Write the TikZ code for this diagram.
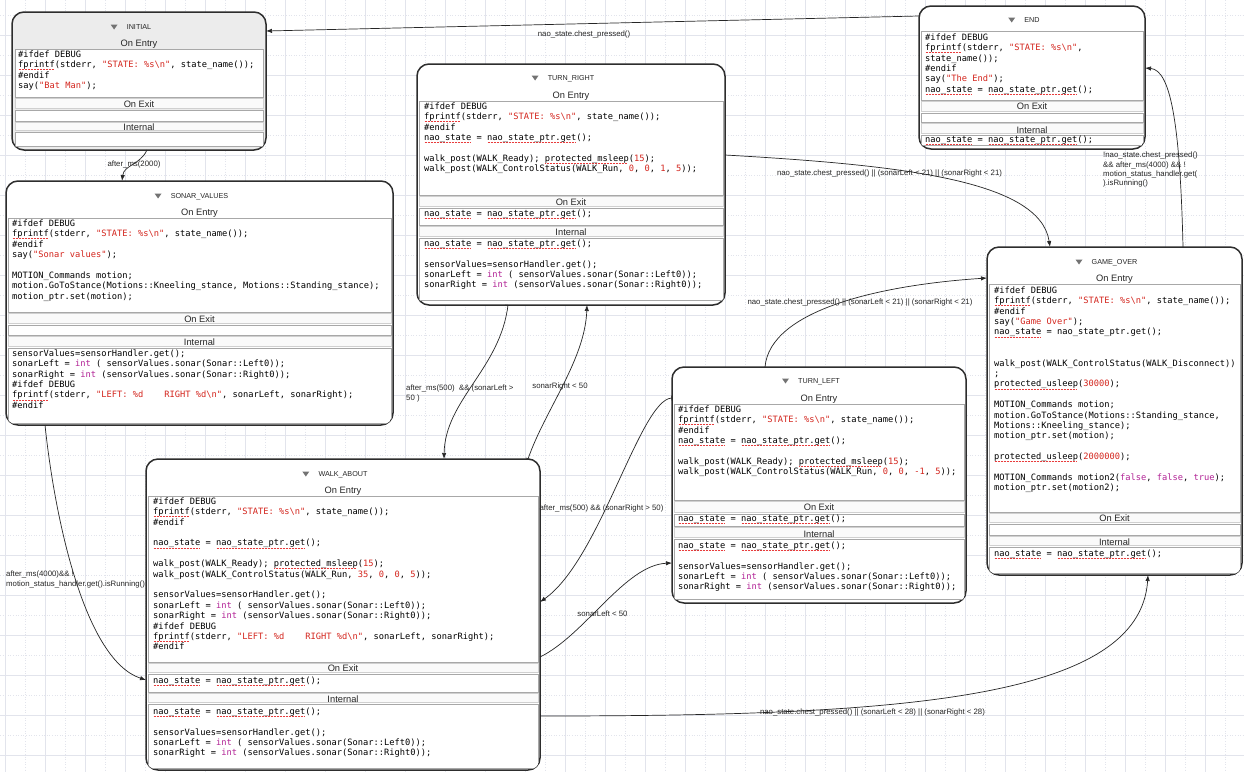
\documentclass[tikz,border=0pt]{standalone}
\usepackage{fontspec}
\setmainfont{Liberation Sans}
\setmonofont{DejaVu Sans Mono}
\usetikzlibrary{arrows.meta,calc}

\definecolor{gridmaj}{RGB}{226,228,236}
\definecolor{gridmin}{RGB}{226,228,236}
\definecolor{frame}{RGB}{45,45,45}
\definecolor{cellline}{RGB}{168,168,168}
\definecolor{bandline}{RGB}{208,208,208}
\definecolor{codestr}{RGB}{212,38,30}
\definecolor{codekw}{RGB}{178,36,150}
\definecolor{squig}{RGB}{232,60,60}
\definecolor{initfill}{RGB}{236,236,236}

% syntax colouring and spell-check underline for the code listings
\newcommand\cstr[1]{\textcolor{codestr}{#1}}
\newcommand\ckw[1]{\textcolor{codekw}{#1}}
\newcommand\csq[1]{\setbox0=\hbox{#1}\rlap{\raisebox{-2.4pt}{\textcolor{squig}{\hbox to\wd0{\leaders\hbox to 1.5pt{\hss\rule{0.8pt}{0.7pt}\hss}\hfill}}}}\box0\relax}
\newcommand\bsl{\textbackslash}
\newcommand\fl{\rule{0pt}{7.5pt}}
\newcommand\emptyline{\mbox{}}

% lines that repeat in several states
\newcommand\Ldbg{\#ifdef DEBUG}
\newcommand\Lfpr{\csq{fprintf}(stderr, \cstr{"STATE: \%s\bsl n"}, state\_name());}
\newcommand\Lendif{\#endif}
\newcommand\Lnao{\csq{nao\_state} = \csq{nao\_state\_ptr.get}();}
\newcommand\Lsens{sensorValues=sensorHandler.get();}
\newcommand\Lsl{sonarLeft = \ckw{int} ( sensorValues.sonar(Sonar::Left0));}
\newcommand\Lsr{sonarRight = \ckw{int} (sensorValues.sonar(Sonar::Right0));}
\newcommand\Llr{\csq{fprintf}(stderr, \cstr{"LEFT: \%d\ \ \ \ RIGHT \%d\bsl n"}, sonarLeft, sonarRight);}
\newcommand\Lready{walk\_post(WALK\_Ready); \csq{protected\_msleep}(\cstr{15});}

% entry / exit / internal compartments of a state
\newcommand\cells[8]{%
  \draw[cell] (#1,#3) rectangle (#2,#4);
  \draw[band] (#1,#4+1.5) rectangle (#2,#5-1.5);
  \draw[cell] (#1,#5) rectangle (#2,#6);
  \draw[band] (#1,#6+1.5) rectangle (#2,#7-1.5);
  \draw[cell] (#1,#7) rectangle (#2,#8);
}

\tikzset{
  statebox/.style={draw=frame, line width=1.5pt, rounded corners=12pt, fill=white,
    inner sep=0pt, outer sep=0pt, anchor=north west},
  cell/.style={draw=cellline, line width=0.8pt, fill=white},
  band/.style={draw=bandline, line width=0.6pt, fill=black!2},
  hdr/.style={font=\fontsize{9.3}{11}\selectfont, inner sep=0pt, anchor=base, text=black!85},
  ttl/.style={font=\fontsize{7.2}{9}\selectfont, inner sep=0pt, anchor=base, text=black!85},
  tri/.style={fill=black!55},
  code/.style={font=\ttfamily\fontsize{8.72}{10.4}\selectfont, inner sep=0pt,
    anchor=north west, align=left},
  lbl/.style={font=\fontsize{7.8}{9.2}\selectfont, inner sep=0pt, text=black!85},
  conn/.style={draw=black!85, line width=0.7pt, -{Latex[length=6pt,width=4.4pt]}},
  ticked/.style={conn, {Bar[width=5pt,line width=0.6pt]}-{Latex[length=6pt,width=4.4pt]}},
}

\begin{document}
\begin{tikzpicture}[x=1pt,y=-1pt]
\useasboundingbox (0,0) rectangle (1244,772);
\fill[white] (0,0) rectangle (1244,772);

% background grid
\foreach \x in {5,45,...,1244} \draw[gridmaj, line width=0.6pt] (\x,0) -- (\x,772);
\foreach \y in {35,75,...,772} \draw[gridmaj, line width=0.6pt] (0,\y) -- (1244,\y);
\foreach \x in {25,65,...,1244} \draw[gridmin, line width=0.6pt, dotted] (\x,0) -- (\x,772);
\foreach \y in {15,55,...,772} \draw[gridmin, line width=0.6pt, dotted] (0,\y) -- (1244,\y);

% ---------------- INITIAL ----------------
\node[statebox, fill=initfill, minimum width=254, minimum height=138] (initial) at (12,12) {};
\begin{scope}
  \clip[rounded corners=12pt] (initial.north west) rectangle (initial.south east);
  \cells{15}{263}{49}{97}{110}{121}{132}{146}
\end{scope}
\node[ttl] (initial-title) at (139,29.5) {INITIAL};
\fill[tri] ([xshift=-16pt,yshift=5pt]initial-title.base west) -- ++(7,0) -- ++(-3.5,5) -- cycle;
\node[hdr] (initial-entry) at (139,46.3) {On Entry};
\node[hdr] (initial-exit) at (139,107.3) {On Exit};
\node[hdr] (initial-int) at (139,130.3) {Internal};
\node[code] (initial-entrycode) at (18,49.5) {\fl\Ldbg\\
\Lfpr\\
\Lendif\\
say(\cstr{"Bat Man"});};

% ---------------- END ----------------
\node[statebox, minimum width=226, minimum height=143] (endstate) at (919,6) {};
\begin{scope}
  \clip[rounded corners=12pt] (endstate.north west) rectangle (endstate.south east);
  \cells{921}{1143}{31}{100}{113}{122}{135}{145}
\end{scope}
\node[ttl] (endstate-title) at (1032,22.5) {END};
\fill[tri] ([xshift=-16pt,yshift=5pt]endstate-title.base west) -- ++(7,0) -- ++(-3.5,5) -- cycle;
\node[hdr] (endstate-exit) at (1032,109.3) {On Exit};
\node[hdr] (endstate-int) at (1032,133.3) {Internal};
\node[code] (endstate-entrycode) at (925,32.5) {\fl\Ldbg\\
\csq{fprintf}(stderr, \cstr{"STATE: \%s\bsl n"},\\
state\_name());\\
\Lendif\\
say(\cstr{"The End"});\\
\Lnao};
\node[code] (endstate-intcode) at (925,134.5) {\fl\Lnao};

% ---------------- TURN_RIGHT ----------------
\node[statebox, minimum width=308, minimum height=241] (turnright) at (417,64) {};
\begin{scope}
  \clip[rounded corners=12pt] (turnright.north west) rectangle (turnright.south east);
  \cells{419}{723}{101}{195}{208}{225}{238}{300}
\end{scope}
\node[ttl] (turnright-title) at (571,80.5) {TURN\_RIGHT};
\fill[tri] ([xshift=-16pt,yshift=5pt]turnright-title.base west) -- ++(7,0) -- ++(-3.5,5) -- cycle;
\node[hdr] (turnright-entry) at (571,98.3) {On Entry};
\node[hdr] (turnright-exit) at (571,205.3) {On Exit};
\node[hdr] (turnright-int) at (571,235.3) {Internal};
\node[code] (turnright-entrycode) at (424,101.5) {\fl\Ldbg\\
\Lfpr\\
\Lendif\\
\Lnao\\
\emptyline\\
\Lready\\
walk\_post(WALK\_ControlStatus(WALK\_Run, \cstr{0}, \cstr{0}, \cstr{1}, \cstr{5}));};
\node[code] (turnright-exitcode) at (424,208.5) {\fl\Lnao};
\node[code] (turnright-intcode) at (424,238.5) {\fl\Lnao\\
\emptyline\\
\Lsens\\
\Lsl\\
\Lsr};

% ---------------- SONAR_VALUES ----------------
\node[statebox, minimum width=387, minimum height=244] (sonar) at (6,181) {};
\begin{scope}
  \clip[rounded corners=12pt] (sonar.north west) rectangle (sonar.south east);
  \cells{8}{391}{218}{312}{325}{335}{348}{423}
\end{scope}
\node[ttl] (sonar-title) at (199.5,198.5) {SONAR\_VALUES};
\fill[tri] ([xshift=-16pt,yshift=5pt]sonar-title.base west) -- ++(7,0) -- ++(-3.5,5) -- cycle;
\node[hdr] (sonar-entry) at (199.5,215.3) {On Entry};
\node[hdr] (sonar-exit) at (199.5,322.3) {On Exit};
\node[hdr] (sonar-int) at (199.5,345.3) {Internal};
\node[code] (sonar-entrycode) at (12,218.5) {\fl\Ldbg\\
\Lfpr\\
\Lendif\\
say(\cstr{"Sonar values"});\\
\emptyline\\
MOTION\_Commands motion;\\
motion.GoToStance(Motions::Kneeling\_stance, Motions::Standing\_stance);\\
motion\_ptr.set(motion);};
\node[code] (sonar-intcode) at (12,348.5) {\fl\Lsens\\
\Lsl\\
\Lsr\\
\Ldbg\\
\Llr\\
\Lendif};

% ---------------- GAME_OVER ----------------
\node[statebox, minimum width=255, minimum height=328] (gameover) at (987,247) {};
\begin{scope}
  \clip[rounded corners=12pt] (gameover.north west) rectangle (gameover.south east);
  \cells{989}{1240}{284}{512}{524}{535}{547}{573}
\end{scope}
\node[ttl] (gameover-title) at (1114.5,264.5) {GAME\_OVER};
\fill[tri] ([xshift=-16pt,yshift=5pt]gameover-title.base west) -- ++(7,0) -- ++(-3.5,5) -- cycle;
\node[hdr] (gameover-entry) at (1114.5,281.3) {On Entry};
\node[hdr] (gameover-exit) at (1114.5,521.3) {On Exit};
\node[hdr] (gameover-int) at (1114.5,545.3) {Internal};
\node[code] (gameover-entrycode) at (994,285.5) {\fl\Ldbg\\
\Lfpr\\
\Lendif\\
say(\cstr{"Game Over"});\\
\csq{nao\_state} = nao\_state\_ptr.get();\\
\emptyline\\
\emptyline\\
walk\_post(WALK\_ControlStatus(WALK\_Disconnect))\\
;\\
\csq{protected\_usleep}(\cstr{30000});\\
\emptyline\\
MOTION\_Commands motion;\\
motion.GoToStance(Motions::Standing\_stance,\\
Motions::Kneeling\_stance);\\
motion\_ptr.set(motion);\\
\emptyline\\
\csq{protected\_usleep}(\cstr{2000000});\\
\emptyline\\
MOTION\_Commands motion2(\ckw{false}, \ckw{false}, \ckw{true});\\
motion\_ptr.set(motion2);};
\node[code] (gameover-intcode) at (994,548.5) {\fl\Lnao};

% ---------------- TURN_LEFT ----------------
\node[statebox, minimum width=294, minimum height=236] (turnleft) at (672,367) {};
\begin{scope}
  \clip[rounded corners=12pt] (turnleft.north west) rectangle (turnleft.south east);
  \cells{674}{964}{404}{500}{514}{526}{539}{599}
\end{scope}
\node[ttl] (turnleft-title) at (819,383.5) {TURN\_LEFT};
\fill[tri] ([xshift=-16pt,yshift=5pt]turnleft-title.base west) -- ++(7,0) -- ++(-3.5,5) -- cycle;
\node[hdr] (turnleft-entry) at (819,401.3) {On Entry};
\node[hdr] (turnleft-exit) at (819,510.3) {On Exit};
\node[hdr] (turnleft-int) at (819,537.3) {Internal};
\node[code] (turnleft-entrycode) at (678,404.5) {\fl\Ldbg\\
\Lfpr\\
\Lendif\\
\Lnao\\
\emptyline\\
\Lready\\
walk\_post(WALK\_ControlStatus(WALK\_Run, \cstr{0}, \cstr{0}, \cstr{-1}, \cstr{5}));};
\node[code] (turnleft-exitcode) at (678,513.5) {\fl\Lnao};
\node[code] (turnleft-intcode) at (678,540.5) {\fl\Lnao\\
\emptyline\\
\Lsens\\
\Lsl\\
\Lsr};

% ---------------- WALK_ABOUT ----------------
\node[statebox, minimum width=394, minimum height=311] (walk) at (146,459) {};
\begin{scope}
  \clip[rounded corners=12pt] (walk.north west) rectangle (walk.south east);
  \cells{148}{538}{496}{662}{674}{692}{704}{768}
\end{scope}
\node[ttl] (walk-title) at (343,476.5) {WALK\_ABOUT};
\fill[tri] ([xshift=-16pt,yshift=5pt]walk-title.base west) -- ++(7,0) -- ++(-3.5,5) -- cycle;
\node[hdr] (walk-entry) at (343,493.3) {On Entry};
\node[hdr] (walk-exit) at (343,671.3) {On Exit};
\node[hdr] (walk-int) at (343,702.3) {Internal};
\node[code] (walk-entrycode) at (153,496.5) {\fl\Ldbg\\
\Lfpr\\
\Lendif\\
\emptyline\\
\Lnao\\
\emptyline\\
\Lready\\
walk\_post(WALK\_ControlStatus(WALK\_Run, \cstr{35}, \cstr{0}, \cstr{0}, \cstr{5}));\\
\emptyline\\
\Lsens\\
\Lsl\\
\Lsr\\
\Ldbg\\
\Llr\\
\Lendif};
\node[code] (walk-exitcode) at (153,675.5) {\fl\Lnao};
\node[code] (walk-intcode) at (153,706.5) {\fl\Lnao\\
\emptyline\\
\Lsens\\
\Lsl\\
\Lsr};

% ---------------- transition labels ----------------
\node[lbl] (l-end-init) at (584,34) {nao\_state.chest\_pressed()};
\node[lbl] (l-init-sonar) at (134,164) {after\_ms(2000)};
\node[lbl, align=left, anchor=north west] (l-sonar-walk) at (6,571) {after\_ms(4000)\&\& !\\motion\_status\_handler.get().isRunning()};
\node[lbl, align=left, anchor=north west] (l-tr-walk) at (406,385) {after\_ms(500)\ \ \&\& (sonarLeft >\\50 )};
\node[lbl] (l-walk-tr) at (560,386) {sonarRight < 50};
\node[lbl] (l-tl-walk) at (601.5,508.5) {after\_ms(500) \&\& (sonarRight > 50)};
\node[lbl] (l-walk-tl) at (602.5,614) {sonarLeft < 50};
\node[lbl] (l-tl-go) at (860,302.3) {nao\_state.chest\_pressed() || (sonarLeft < 21) || (sonarRight < 21)};
\node[lbl] (l-tr-go) at (889.5,173.3) {nao\_state.chest\_pressed() || (sonarLeft < 21) || (sonarRight < 21)};
\node[lbl, align=left, anchor=north west] (l-go-end) at (1103,152) {!nao\_state.chest\_pressed()\\\&\& after\_ms(4000) \&\& !\\motion\_status\_handler.get(\\).isRunning()};
\node[lbl] (l-walk-go) at (872.5,712.3) {nao\_state.chest\_pressed() || (sonarLeft < 28) || (sonarRight < 28)};

% ---------------- transitions ----------------
\draw[conn] ($(endstate.north west)+(0,10)$) -- ($(initial.north east)+(0,19)$);
\draw[conn] ($(initial.south west)+(135,0)$) .. controls +(-7,15) and +(2,-16) .. ($(sonar.north west)+(116,0)$);
\draw[conn] ($(sonar.south west)+(39,0)$) .. controls +(10,95) and +(-61,-20) .. ($(walk.north west)+(0,221)$);
\draw[ticked] ($(turnright.south west)+(91,0)$) .. controls +(-8,64) and +(1,-59) .. ($(walk.north west)+(298,0)$);
\draw[ticked] ($(walk.north west)+(382,0)$) .. controls +(17,-49) and +(-2,55) .. ($(turnright.south west)+(170,0)$);
\draw[ticked] ($(turnleft.north west)+(0,31)$) .. controls +(-32,2) and +(60,-42) .. ($(walk.north east)+(0,143)$);
\draw[conn] ($(walk.north east)+(0,198)$) .. controls +(45,-22) and +(-47,2) .. ($(turnleft.north west)+(0,196)$);
\draw[conn] ($(turnleft.north west)+(93,0)$) .. controls +(5,-57) and +(-107,7) .. ($(gameover.north west)+(0,31)$);
\draw[conn] ($(turnright.north east)+(0,91)$) .. controls +(175,10) and +(-10,-67) .. ($(gameover.north west)+(63,0)$);
\draw[conn] ($(gameover.north west)+(196,0)$) .. controls +(-3,-127) and +(25,2) .. ($(endstate.north east)+(0,62)$);
\draw[ticked] ($(walk.north east)+(0,257)$) .. controls +(360,0) and +(-8,125) .. ($(gameover.south west)+(161,0)$);
\end{tikzpicture}
\end{document}
